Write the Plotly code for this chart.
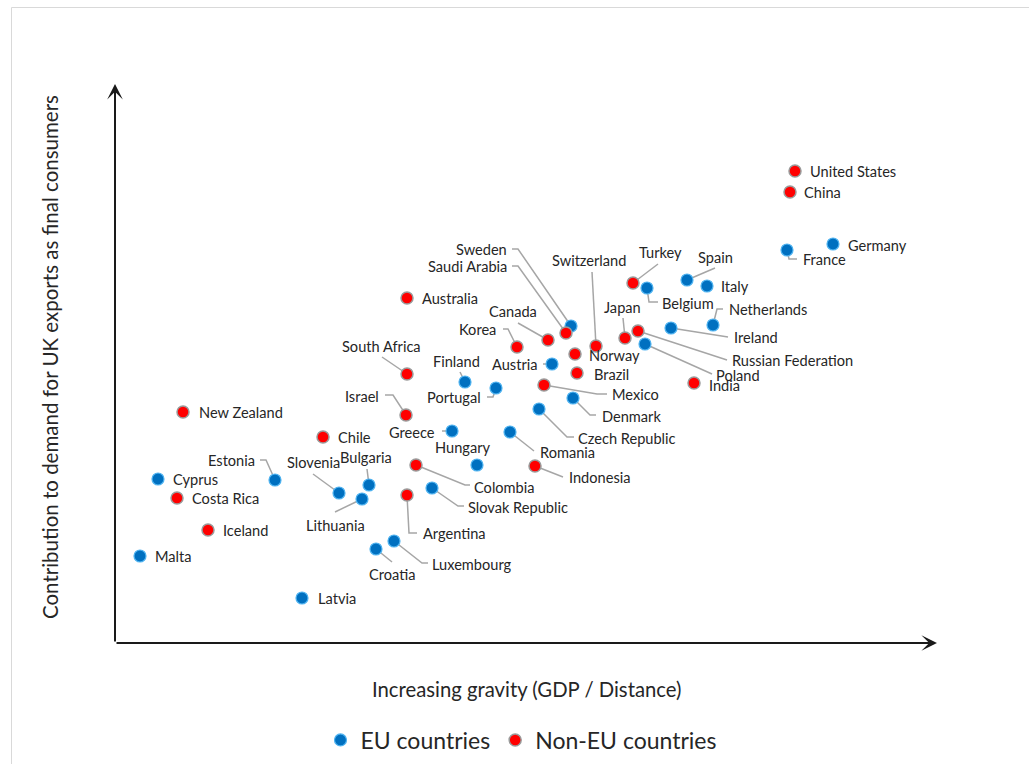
import plotly.graph_objects as go

# ---- data (index units: gravity on x, demand contribution on y) ----
eu_countries = [
    "Germany", "France", "Spain", "Italy", "Belgium", "Netherlands", "Ireland",
    "Poland", "Sweden", "Austria", "Finland", "Portugal", "Denmark",
    "Czech Republic", "Greece", "Romania", "Hungary", "Slovak Republic",
    "Estonia", "Slovenia", "Bulgaria", "Lithuania", "Cyprus", "Malta",
    "Luxembourg", "Croatia", "Latvia",
]
eu_gravity = [718, 672, 572, 592, 532, 598, 556, 530, 456, 437, 350, 381, 458,
              424, 337, 395, 362, 317, 160, 224, 254, 247, 43, 25, 279, 261, 187]
eu_demand = [399, 393, 363, 357, 355, 318, 315, 299, 317, 279, 261, 255, 245,
             234, 212, 211, 178, 155, 163, 150, 158, 144, 164, 87, 102, 94, 45]

non_eu_countries = [
    "United States", "China", "Turkey", "Switzerland", "Japan",
    "Russian Federation", "India", "Saudi Arabia", "Canada", "Korea", "Norway",
    "Brazil", "Mexico", "Australia", "South Africa", "Israel", "New Zealand",
    "Chile", "Colombia", "Indonesia", "Argentina", "Costa Rica", "Iceland",
]
non_eu_gravity = [680, 675, 518, 481, 510, 523, 579, 451, 433, 402, 460, 462,
                  429, 292, 292, 291, 68, 208, 301, 420, 292, 62, 93]
non_eu_demand = [472, 451, 360, 297, 305, 312, 260, 310, 303, 296, 289, 270,
                 258, 345, 269, 228, 231, 206, 178, 177, 148, 145, 113]

# ---- label layout: offset in screen px (dx right, dy down), anchor, leader bends ----
LABELS = {
    "Germany": (15, 1, "left", []),
    "France": (16, 9, "left", [(2, 9), (10, 9)]),
    "Spain": (11, -23, "left", [(28, -12)]),
    "Italy": (14, 0, "left", []),
    "Belgium": (15, 15, "left", [(2, 14), (11, 14)]),
    "Netherlands": (16, -16, "left", [(4, -16), (10, -16)]),
    "Ireland": (63, 9, "left", [(57, 9)]),
    "Poland": (71, 31, "left", [(67, 30)]),
    "Sweden": (-64, -77, "right", [(-53, -77), (-59, -77)]),
    "Austria": (-15, 0, "right", [(-9, 0)]),
    "Finland": (-9, -21, "center", [(-5, -10)]),
    "Portugal": (-15, 9, "right", [(-3, 9), (-9, 9)]),
    "Denmark": (29, 18, "left", [(17, 17), (23, 17)]),
    "Czech Republic": (39, 29, "left", [(28, 28), (35, 28)]),
    "Greece": (-17, 1, "right", [(-10, 0)]),
    "Romania": (30, 20, "left", [(24, 19)]),
    "Hungary": (-15, -18, "center", []),
    "Slovak Republic": (36, 19, "left", [(26, 18), (32, 18)]),
    "Estonia": (-20, -20, "right", [(-9, -20), (-15, -20)]),
    "Slovenia": (-26, -31, "center", [(-26, -19)]),
    "Bulgaria": (-3, -28, "center", [(-2, -16)]),
    "Lithuania": (-27, 26, "center", [(-27, 13)]),
    "Cyprus": (15, 0, "left", []),
    "Malta": (15, 0, "left", []),
    "Luxembourg": (38, 23, "left", [(28, 22), (34, 22)]),
    "Croatia": (16, 25, "center", [(16, 13)]),
    "Latvia": (16, 0, "left", []),
    "United States": (15, 0, "left", []),
    "China": (14, 0, "left", []),
    "Turkey": (27, -31, "center", [(25, -19)]),
    "Switzerland": (-7, -86, "center", [(-4, -74)]),
    "Japan": (-3, -31, "center", [(-2, -20)]),
    "Russian Federation": (94, 29, "left", [(89, 29)]),
    "India": (15, 2, "left", []),
    "Saudi Arabia": (-59, -67, "right", [(-48, -67), (-54, -67)]),
    "Canada": (-35, -29, "center", [(-30, -17)]),
    "Korea": (-21, -18, "right", [(-9, -18), (-14, -18)]),
    "Norway": (14, 1, "left", []),
    "Brazil": (17, 1, "left", []),
    "Mexico": (68, 9, "left", [(53, 9), (63, 9)]),
    "Australia": (15, 0, "left", []),
    "South Africa": (-26, -28, "center", [(-25, -17)]),
    "Israel": (-27, -19, "right", [(-13, -20), (-21, -20)]),
    "New Zealand": (16, 0, "left", []),
    "Chile": (15, 0, "left", []),
    "Colombia": (58, 22, "left", [(49, 20), (54, 20)]),
    "Indonesia": (34, 11, "left", [(28, 11)]),
    "Argentina": (16, 38, "left", [(2, 38), (10, 38)]),
    "Costa Rica": (15, 0, "left", []),
    "Iceland": (15, 0, "left", []),
}

# ---- figure geometry ----
W, H = 1029, 764
M_L, M_R, M_T, M_B = 115, 92, 84, 121
X_MAX, Y_MAX = 822, 559
plot_w, plot_h = W - M_L - M_R, H - M_T - M_B
ux, uy = X_MAX / plot_w, Y_MAX / plot_h   # data units per pixel

FONT = "Lato"
TEXT = "#262626"
EU_BLUE = "#0070C0"
NON_EU_RED = "#FF0000"
LEADER = "#A6A6A6"
ANCHOR_SHIFT = {"left": -2, "right": 2, "center": 0}

fig = go.Figure()

# leader lines (drawn first so the markers sit on top)
lx, ly = [], []
annotations = []
for names, xs, ys in ((eu_countries, eu_gravity, eu_demand),
                      (non_eu_countries, non_eu_gravity, non_eu_demand)):
    for name, x, y in zip(names, xs, ys):
        dx, dy, anchor, bends = LABELS[name]
        if bends:
            lx.append(x)
            ly.append(y)
            for bx, by in bends:
                lx.append(x + bx * ux)
                ly.append(y - by * uy)
            lx.append(None)
            ly.append(None)
        annotations.append(dict(
            x=x + dx * ux, y=y - dy * uy, xref="x", yref="y",
            xshift=ANCHOR_SHIFT[anchor],
            text=name, showarrow=False, xanchor=anchor, yanchor="middle",
            font=dict(family=FONT, size=14.6, color=TEXT),
        ))

fig.add_trace(go.Scatter(
    x=lx, y=ly, mode="lines", line=dict(color=LEADER, width=1.5),
    hoverinfo="skip", showlegend=False,
))

fig.add_trace(go.Scatter(
    x=eu_gravity, y=eu_demand, mode="markers", name="EU countries",
    text=eu_countries, hovertemplate="%{text}<extra></extra>",
    marker=dict(size=12, color=EU_BLUE, line=dict(color="#4FB3F0", width=1.2)),
))
fig.add_trace(go.Scatter(
    x=non_eu_gravity, y=non_eu_demand, mode="markers", name="Non-EU countries",
    text=non_eu_countries, hovertemplate="%{text}<extra></extra>",
    marker=dict(size=12, color=NON_EU_RED, line=dict(color="#9A9A9A", width=1.5)),
))

# axes drawn as arrows from the origin
axis_arrow = dict(xref="x", yref="y", axref="x", ayref="y", text="",
                  showarrow=True, arrowhead=3, arrowsize=1.3, arrowwidth=2,
                  arrowcolor="#1A1A1A", standoff=0, startstandoff=0)
annotations.append(dict(axis_arrow, x=X_MAX, y=0, ax=0, ay=0))
annotations.append(dict(axis_arrow, x=0, y=Y_MAX, ax=0, ay=0))

# axis titles
annotations.append(dict(
    text="Increasing gravity (GDP / Distance)", xref="paper", yref="paper",
    x=0.5006, y=0, yshift=-46, xanchor="center", yanchor="middle",
    showarrow=False, font=dict(family=FONT, size=20.3, color=TEXT),
))
annotations.append(dict(
    text="Contribution to demand for UK exports as final consumers",
    xref="paper", yref="paper", x=0, xshift=-65, y=0.5116,
    xanchor="center", yanchor="middle", textangle=-90, showarrow=False,
    font=dict(family=FONT, size=20.5, color=TEXT),
))

fig.update_layout(
    width=W, height=H,
    margin=dict(l=M_L, r=M_R, t=M_T, b=M_B, autoexpand=False),
    paper_bgcolor="white", plot_bgcolor="white",
    xaxis=dict(range=[0, X_MAX], visible=False, fixedrange=True),
    yaxis=dict(range=[0, Y_MAX], visible=False, fixedrange=True),
    annotations=annotations,
    showlegend=True,
    legend=dict(orientation="h", x=0.5 - 5 / plot_w, xanchor="center",
                y=(0 - 97 / plot_h), yanchor="middle",
                font=dict(family=FONT, size=23, color=TEXT),
                bgcolor="rgba(0,0,0,0)"),
    shapes=[dict(type="rect", xref="paper", yref="paper",
                 x0=(11.5 - M_L) / plot_w, x1=1.3,
                 y0=-0.4, y1=(plot_h + M_T - 7.5) / plot_h,
                 line=dict(color="#D9D9D9", width=1), layer="below")],
)

fig.write_html("out.html")
